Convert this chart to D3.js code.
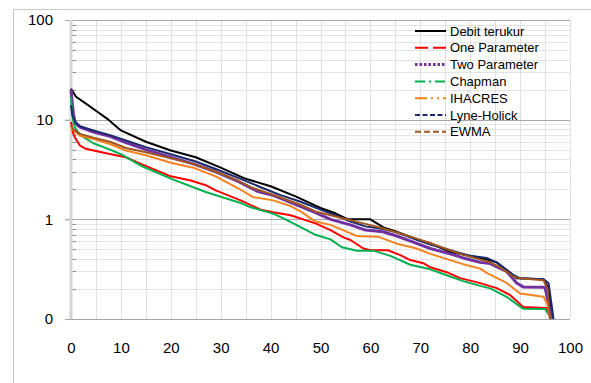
<!DOCTYPE html>
<html>
<head>
<meta charset="utf-8">
<script src="https://cdn.jsdelivr.net/npm/d3@7"></script>
<style>
  body { margin: 0; background: #fff; }
  svg { display: block; font-family: "Liberation Sans", Arial, sans-serif; }
</style>
</head>
<body>
<div id="chart"></div>
<script>
// flow duration curves: [exceedance %, discharge]
const debitTerukur = [[0,20.4],[1,17],[3,14.5],[5,12.3],[7.5,10],[10,7.8],[15,6.0],[20,4.9],[25,4.2],[30,3.3],[35,2.55],[40,2.15],[45,1.7],[50,1.3],[53,1.15],[55.5,1.0],[60,1.0],[62.6,0.83],[65,0.76],[69.3,0.63],[72,0.575],[76,0.47],[79,0.44],[83,0.40],[85.3,0.37],[87.3,0.31],[89.3,0.257],[94.7,0.251],[95.7,0.204],[96.3,0.1]];
const oneParameter = [[0,9.5],[0.4,7.4],[0.8,6.6],[1.8,5.5],[3,5.1],[4.5,4.9],[8,4.5],[11,4.2],[14,3.6],[20,2.7],[24,2.45],[27,2.2],[29,1.95],[34,1.55],[38,1.25],[40.5,1.18],[44,1.1],[49,0.91],[52,0.78],[54.6,0.66],[56,0.62],[58.6,0.51],[60,0.49],[63.5,0.49],[66,0.437],[68,0.39],[70.6,0.363],[72,0.33],[75.3,0.295],[78,0.257],[82,0.229],[85.3,0.204],[88,0.174],[90.6,0.132],[95.3,0.129],[96.3,0.1]];
const twoParameter = [[0,20],[0.3,14],[0.5,11.4],[0.8,9.3],[1.8,8.4],[4.5,7.5],[7.8,6.8],[11,5.9],[15,5.0],[20,4.2],[24.5,3.6],[29,3.0],[33.5,2.4],[37.5,1.9],[40.5,1.74],[43,1.55],[49,1.17],[52,1.0],[56,0.88],[59,0.78],[62.5,0.75],[65.3,0.68],[69,0.58],[72,0.51],[76,0.45],[78.6,0.41],[82,0.37],[84,0.36],[87.3,0.30],[89.3,0.23],[90.6,0.21],[95,0.208],[96.3,0.1]];
const chapman = [[0,17],[0.2,12],[0.5,9.3],[1,8.0],[2,6.9],[4.5,5.8],[7.8,5.0],[10,4.5],[14,3.45],[20.5,2.5],[27,1.88],[34,1.46],[36,1.32],[40.5,1.14],[43,1.0],[49,0.7],[52,0.63],[54.3,0.525],[57.3,0.485],[60.6,0.485],[64,0.43],[68,0.35],[72,0.315],[75.3,0.275],[78.6,0.24],[82,0.215],[84,0.203],[87.3,0.167],[90,0.133],[90.6,0.127],[95,0.126],[96.3,0.1]];
const ihacres = [[0,8.6],[0.5,7.8],[1.8,6.9],[4.5,6.4],[7.8,5.7],[11,4.9],[15,4.4],[20,3.7],[24.5,3.3],[29,2.7],[33.5,2.05],[36.5,1.67],[40.5,1.55],[44,1.36],[46,1.2],[49,0.95],[52,0.88],[54.5,0.78],[57.3,0.68],[61.5,0.67],[65.3,0.57],[69.3,0.51],[72,0.45],[76,0.39],[78.6,0.355],[82,0.32],[83.3,0.29],[87.3,0.23],[90,0.18],[94.7,0.167],[95.5,0.14],[96,0.1]];
const lyneHolick = [[0,14],[0.3,11],[0.8,9.6],[1.8,8.6],[4.5,7.8],[7.8,7.0],[11,6.2],[15,5.3],[20,4.5],[25,3.8],[29,3.2],[34,2.55],[38,2.1],[42,1.75],[46,1.5],[50,1.25],[53,1.1],[56,0.95],[59,0.85],[62.5,0.8],[65.3,0.74],[69,0.63],[72,0.56],[76,0.49],[80,0.43],[83.3,0.41],[85.3,0.37],[88.7,0.275],[90,0.257],[94.7,0.25],[95.7,0.23],[96.7,0.1]];
const ewma = [[0,8.8],[0.5,8.0],[1.8,7.2],[4.5,6.6],[7.8,6.0],[11,5.2],[15,4.7],[20,4.1],[24.5,3.6],[29,3.0],[33,2.5],[36,2.1],[40,1.8],[42.5,1.62],[46,1.4],[49,1.2],[52,1.1],[56,0.98],[59,0.9],[62.6,0.81],[66,0.72],[69.3,0.64],[72,0.575],[76,0.49],[78.6,0.44],[84,0.37],[86,0.33],[88.7,0.265],[90,0.257],[94.7,0.245],[95.5,0.2],[96,0.1]];

const xTicks = [0, 10, 20, 30, 40, 50, 60, 70, 80, 90, 100];
const yTicks = [0.1, 1, 10, 100];
const yTickLabels = ["0", "1", "10", "100"];

const series = [
  { name: "Debit terukur", data: debitTerukur, color: "#000000", dash: null, w: 2 },
  { name: "One Parameter", data: oneParameter, color: "#ff0000", dash: "13,5", w: 2 },
  { name: "Two Parameter", data: twoParameter, color: "#7030a0", dash: "2.5,2", w: 3 },
  { name: "Chapman", data: chapman, color: "#00b050", dash: "10,4,2,4", w: 2 },
  { name: "IHACRES", data: ihacres, color: "#f58220", dash: "12,4,2,4,2,4", w: 2 },
  { name: "Lyne-Holick", data: lyneHolick, color: "#1a2a6c", dash: "5,2.5", w: 2 },
  { name: "EWMA", data: ewma, color: "#a0561e", dash: "6,3", w: 2 }
];

const width = 591, height = 383;
const svg = d3.select("#chart").append("svg")
  .attr("width", width).attr("height", height);

const x = d3.scaleLinear().domain([0, 100]).range([71, 570]);
const y = d3.scaleLog().domain([0.1, 100]).range([319, 20]);

// chart area border
svg.append("path").attr("d", "M13.5,383V9.5H591")
  .attr("fill", "none").attr("stroke", "#c8c8c8");

// gridlines
const minorY = y.ticks().filter(v => !yTicks.includes(v));
svg.append("g").selectAll("line").data(minorY).join("line")
  .attr("x1", 71).attr("x2", 570)
  .attr("y1", d => Math.round(y(d)) + 0.5).attr("y2", d => Math.round(y(d)) + 0.5)
  .attr("stroke", "#e4e4e4");
svg.append("g").selectAll("line").data(d3.range(5, 101, 5)).join("line")
  .attr("x1", d => Math.round(x(d)) + 0.5).attr("x2", d => Math.round(x(d)) + 0.5)
  .attr("y1", 20).attr("y2", 319)
  .attr("stroke", "#e0e0e0");
svg.append("g").selectAll("line").data(yTicks.slice(1)).join("line")
  .attr("x1", 65).attr("x2", 570)
  .attr("y1", d => Math.round(y(d)) + 0.5).attr("y2", d => Math.round(y(d)) + 0.5)
  .attr("stroke", "#a6a6a6");

// minor ticks inside left axis
svg.append("g").selectAll("line").data(minorY).join("line")
  .attr("x1", 72).attr("x2", 76)
  .attr("y1", d => Math.round(y(d)) + 0.5).attr("y2", d => Math.round(y(d)) + 0.5)
  .attr("stroke", "#8c8c8c");

// y axis
const yAxis = svg.append("g").attr("transform", "translate(71,0)")
  .call(d3.axisLeft(y).tickValues(yTicks).tickSize(6).tickPadding(12)
    .tickFormat((d, i) => yTickLabels[i]));
yAxis.select(".domain").remove();
yAxis.selectAll(".tick line").attr("stroke", "#a6a6a6");
yAxis.selectAll("text").attr("font-size", 15).attr("fill", "#000")
  .attr("font-family", "Liberation Sans, Arial, sans-serif");
svg.append("line").attr("x1", 71).attr("x2", 71).attr("y1", 20).attr("y2", 319)
  .attr("stroke", "#d4d4d4").attr("stroke-width", 3);

// x axis
const xAxis = svg.append("g").attr("transform", "translate(0,319)")
  .call(d3.axisBottom(x).tickValues(xTicks).tickSize(0).tickPadding(23));
xAxis.select(".domain").attr("stroke", "#a6a6a6").attr("d", "M65,0.5H570");
xAxis.selectAll("text").attr("font-size", 15).attr("fill", "#000")
  .attr("font-family", "Liberation Sans, Arial, sans-serif");

// curves
const line = d3.line().x(d => x(d[0])).y(d => y(d[1]));
svg.append("g").selectAll("path").data(series).join("path")
  .attr("d", d => line(d.data))
  .attr("fill", "none")
  .attr("stroke", d => d.color)
  .attr("stroke-width", d => d.w)
  .attr("stroke-linejoin", "round");

// legend
const lg = svg.append("g").selectAll("g").data(series).join("g")
  .attr("transform", (d, i) => `translate(415,${31 + i * 16.8})`);
lg.append("line").attr("x1", 0).attr("x2", 31)
  .attr("stroke", d => d.color).attr("stroke-width", d => d.w)
  .attr("stroke-dasharray", d => d.dash);
lg.append("text").attr("x", 35).attr("dy", "0.35em")
  .attr("font-size", 13).text(d => d.name);
</script>
</body>
</html>
